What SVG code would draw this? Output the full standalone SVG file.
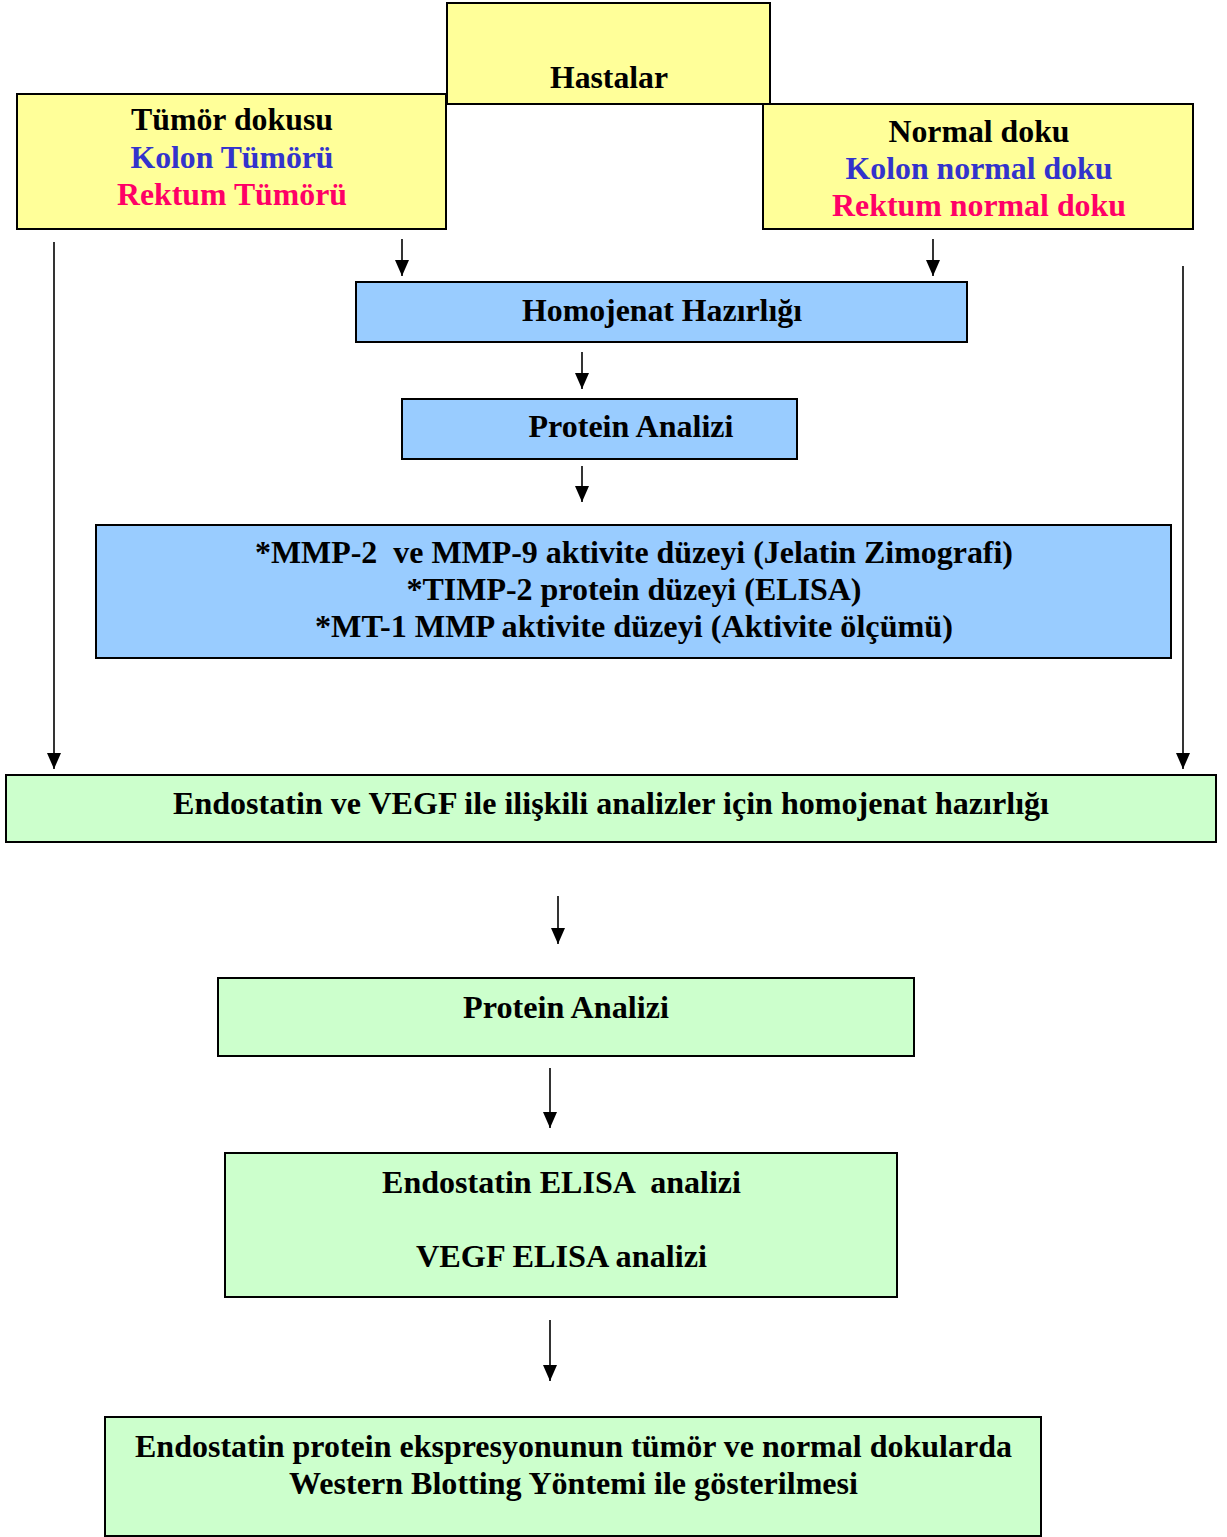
<svg xmlns="http://www.w3.org/2000/svg" width="1227" height="1537" viewBox="0 0 1227 1537">
<style>
.box{stroke:#000;stroke-width:2}
.y{fill:#FFFF99}.b{fill:#99CCFF}.g{fill:#CCFFCC}
text{font-family:"Liberation Serif","Times New Roman",serif;font-weight:bold;font-size:31px;text-anchor:middle;fill:#000}
.blue{fill:#3333CC}.red{fill:#FF0066}
.c{stroke:#000;stroke-width:1.6;fill:none;marker-end:url(#ah)}
</style>
<defs>
<marker id="ah" markerUnits="userSpaceOnUse" markerWidth="16" markerHeight="14" refX="16" refY="7" orient="auto" viewBox="0 0 16 14">
<path d="M0,0 L16,7 L0,14 Z" fill="#000"/>
</marker>
</defs>
<rect width="1227" height="1537" fill="#fff"/>
<g id="connectors">
<line class="c" x1="54" y1="242" x2="54" y2="769"/>
<line class="c" x1="1183" y1="266" x2="1183" y2="769"/>
<line class="c" x1="402" y1="239" x2="402" y2="276"/>
<line class="c" x1="933" y1="239" x2="933" y2="276"/>
<line class="c" x1="582" y1="352" x2="582" y2="389"/>
<line class="c" x1="582" y1="466" x2="582" y2="502"/>
<line class="c" x1="558" y1="896" x2="558" y2="944"/>
<line class="c" x1="550" y1="1068" x2="550" y2="1128"/>
<line class="c" x1="550" y1="1320" x2="550" y2="1381"/>
</g>
<g id="hastalar">
<rect class="box y" x="447" y="3" width="323" height="101"/>
<text x="609" y="88" textLength="118" lengthAdjust="spacingAndGlyphs">Hastalar</text>
</g>
<g id="tumor">
<rect class="box y" x="17" y="94" width="429" height="135"/>
<text x="232" y="130" textLength="202" lengthAdjust="spacingAndGlyphs">Tümör dokusu</text>
<text class="blue" x="232" y="168" textLength="203" lengthAdjust="spacingAndGlyphs">Kolon Tümörü</text>
<text class="red" x="232" y="205" textLength="230" lengthAdjust="spacingAndGlyphs">Rektum Tümörü</text>
</g>
<g id="normal">
<rect class="box y" x="763" y="104" width="430" height="125"/>
<text x="979" y="142" textLength="181" lengthAdjust="spacingAndGlyphs">Normal doku</text>
<text class="blue" x="979" y="179" textLength="267" lengthAdjust="spacingAndGlyphs">Kolon normal doku</text>
<text class="red" x="979" y="216" textLength="294" lengthAdjust="spacingAndGlyphs">Rektum normal doku</text>
</g>
<g id="homojenat">
<rect class="box b" x="356" y="282" width="611" height="60"/>
<text x="662" y="321" textLength="280" lengthAdjust="spacingAndGlyphs">Homojenat Hazırlığı</text>
</g>
<g id="protein1">
<rect class="box b" x="402" y="399" width="395" height="60"/>
<text x="631" y="437" textLength="205" lengthAdjust="spacingAndGlyphs">Protein Analizi</text>
</g>
<g id="mmp">
<rect class="box b" x="96" y="525" width="1075" height="133"/>
<text x="634" y="563" textLength="758" lengthAdjust="spacingAndGlyphs" xml:space="preserve">*MMP-2  ve MMP-9 aktivite düzeyi (Jelatin Zimografi)</text>
<text x="634" y="600" textLength="455" lengthAdjust="spacingAndGlyphs">*TIMP-2 protein düzeyi (ELISA)</text>
<text x="634" y="637" textLength="638" lengthAdjust="spacingAndGlyphs">*MT-1 MMP aktivite düzeyi (Aktivite ölçümü)</text>
</g>
<g id="endostatin-hazirlik">
<rect class="box g" x="6" y="775" width="1210" height="67"/>
<text x="611" y="814" textLength="876" lengthAdjust="spacingAndGlyphs">Endostatin ve VEGF ile ilişkili analizler için homojenat hazırlığı</text>
</g>
<g id="protein2">
<rect class="box g" x="218" y="978" width="696" height="78"/>
<text x="566" y="1018" textLength="206" lengthAdjust="spacingAndGlyphs">Protein Analizi</text>
</g>
<g id="elisa">
<rect class="box g" x="225" y="1153" width="672" height="144"/>
<text x="561.5" y="1193" textLength="359" lengthAdjust="spacingAndGlyphs" xml:space="preserve">Endostatin ELISA  analizi</text>
<text x="561.5" y="1267" textLength="291" lengthAdjust="spacingAndGlyphs">VEGF ELISA analizi</text>
</g>
<g id="western">
<rect class="box g" x="105" y="1417" width="936" height="119"/>
<text x="573.5" y="1457" textLength="877" lengthAdjust="spacingAndGlyphs">Endostatin protein ekspresyonunun tümör ve normal dokularda</text>
<text x="573.5" y="1494" textLength="569" lengthAdjust="spacingAndGlyphs">Western Blotting Yöntemi ile gösterilmesi</text>
</g>
</svg>
